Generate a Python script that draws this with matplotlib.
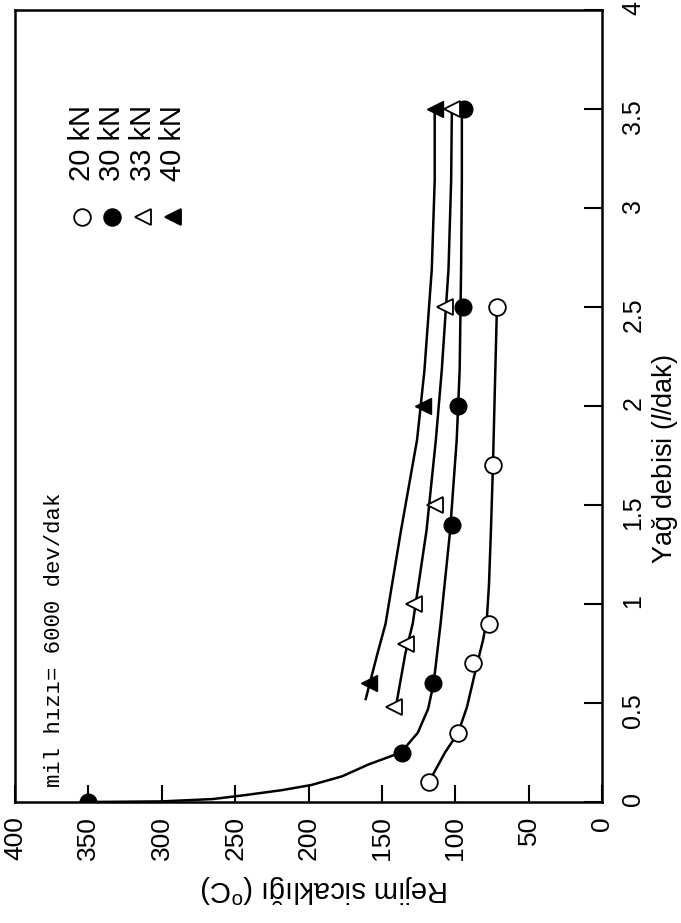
import matplotlib
matplotlib.use('Agg')
import matplotlib.pyplot as plt

plt.rcParams['font.family'] = ['Liberation Sans', 'DejaVu Sans']
plt.rcParams['mathtext.fontset'] = 'custom'
plt.rcParams['mathtext.rm'] = 'Liberation Sans'
plt.rcParams['mathtext.it'] = 'Liberation Sans:italic'

# measured points (flow l/dak, temperature C)
flow_20 = [0.1, 0.35, 0.7, 0.9, 1.7, 2.5]
temp_20 = [118, 98, 88, 77, 74, 71.5]
flow_30 = [0, 0.25, 0.6, 1.4, 2.0, 2.5, 3.5]
temp_30 = [350, 136, 115, 102, 98, 95, 94]
flow_33 = [0.48, 0.8, 1.0, 1.5, 2.5, 3.5]
temp_33 = [142, 133.5, 128, 114, 107, 102]
flow_40 = [0.6, 2.0, 3.5]
temp_40 = [159, 122, 114]

# fitted curves
curve_20_flow = [0.1, 0.25, 0.35, 0.48, 0.67, 0.82, 0.92, 1.1, 1.37, 1.7, 2.18, 2.5]
curve_20_temp = [118, 107, 98, 92, 86, 81, 78.5, 77, 75.7, 74.3, 72.7, 71.6]
curve_30_flow = [0, 0.003, 0.015, 0.035, 0.06, 0.086, 0.13, 0.19, 0.25, 0.35, 0.47, 0.6,
                 0.9, 1.37, 1.83, 2.18, 2.7, 3.14, 3.5]
curve_30_temp = [350, 300, 265, 243, 218, 198, 177, 159, 137, 125.5, 118.5, 114.7,
                 110, 103.5, 99, 97, 96, 95.5, 95.5]
curve_33_flow = [0.5, 0.75, 0.9, 1.37, 1.83, 2.18, 2.69, 3.14, 3.5]
curve_33_temp = [140, 134, 129, 119.6, 113.2, 109.2, 104.6, 102.8, 102.3]
curve_40_flow = [0.52, 0.75, 0.9, 1.37, 1.83, 2.18, 2.69, 3.14, 3.5]
curve_40_temp = [161, 153, 147.5, 137, 126, 121, 116, 114, 114]

temp_ticks = [400, 350, 300, 250, 200, 150, 100, 50, 0]
flow_ticks = [0, 0.5, 1, 1.5, 2, 2.5, 3, 3.5, 4]
flow_labels = ['0', '0.5', '1', '1.5', '2', '2.5', '3', '3.5', '4']
legend_labels = ['20 kN', '30 kN', '33 kN', '40 kN']

fig = plt.figure(figsize=(6.81, 9.23), dpi=100)
ax = fig.add_axes([15 / 681, 121 / 923, 587 / 681, 792 / 923])

# the page is turned: temperature runs along the bottom, flow up the right side
for cf, ct in [(curve_20_flow, curve_20_temp), (curve_30_flow, curve_30_temp),
               (curve_33_flow, curve_33_temp), (curve_40_flow, curve_40_temp)]:
    ax.plot(ct, cf, color='k', lw=1.8, zorder=2)

ms = 12
ax.plot(temp_20, flow_20, 'o', ms=ms, mfc='white', mec='k', mew=1.3, zorder=3)
ax.plot(temp_30, flow_30, 'o', ms=ms, mfc='k', mec='k', zorder=3)
ax.plot(temp_33, flow_33, '<', ms=ms, mfc='white', mec='k', mew=1.3, zorder=3)
ax.plot(temp_40, flow_40, '<', ms=ms, mfc='k', mec='k', zorder=3)

ax.set_xlim(400, 0)
ax.set_ylim(0, 4)
ax.set_xticks(temp_ticks)
ax.set_xticklabels([str(t) for t in temp_ticks])
ax.set_yticks(flow_ticks)
ax.set_yticklabels(flow_labels)
ax.yaxis.tick_right()
ax.tick_params(axis='x', direction='in', length=12, width=1.5, pad=10,
               labelsize=19, labelrotation=90)
ax.tick_params(axis='y', direction='in', length=13, width=1.5, pad=14,
               labelsize=18, labelrotation=90)
for s in ax.spines.values():
    s.set_linewidth(1.8)

ax.set_xlabel('Rejim sicaklığı ($^{\\rm o}$C)', fontsize=21, rotation=180,
              va='center', ha='center')
ax.xaxis.set_label_coords(0.528, -0.109)
ax.yaxis.set_label_position('right')
ax.set_ylabel('Yağ debisi ($\\it{l}$/dak)', fontsize=19.5, rotation=90,
              va='center', ha='center')
ax.yaxis.set_label_coords((665.5 - 15) / 587, 0.433)

# legend drawn turned like the rest
leg_x = [0.114, 0.166, 0.218, 0.270]
leg_style = [dict(marker='o', mfc='white'), dict(marker='o', mfc='k'),
             dict(marker='<', mfc='white'), dict(marker='<', mfc='k')]
for lx, lab, st in zip(leg_x, legend_labels, leg_style):
    ax.plot([lx], [0.739], transform=ax.transAxes, ls='none', ms=12, mec='k',
            mew=1.3, **st)
    ax.text(lx, 0.784, lab, transform=ax.transAxes, rotation=90, fontsize=21,
            ha='center', va='bottom')

ax.text(0.068, 0.019, 'mil hızı= 6000 dev/dak', transform=ax.transAxes,
        rotation=90, fontsize=16, family=['Liberation Mono', 'DejaVu Sans Mono'],
        ha='center', va='bottom')

fig.savefig('out.png', dpi=100)
